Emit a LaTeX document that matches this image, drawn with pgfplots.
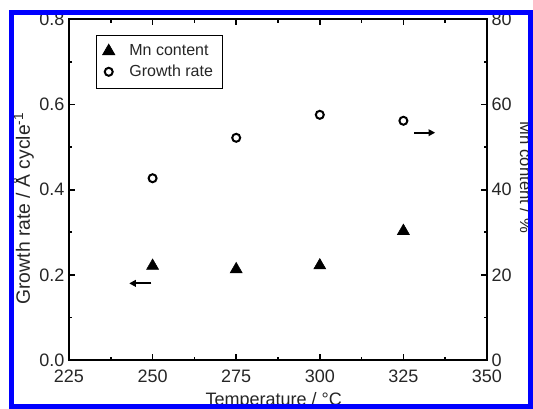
\documentclass[border=0pt]{standalone}
\usepackage{pgfplots}
\pgfplotsset{compat=1.18}
\usepackage{fontspec}
\setmainfont{Liberation Sans}
\usetikzlibrary{arrows.meta}

\pgfplotstableread{
x y
250 0.221
275 0.213
300 0.222
325 0.303
}\mntable
\pgfplotstableread{
x y
250 0.427
275 0.522
300 0.576
325 0.562
}\grtable

\begin{document}
\begin{tikzpicture}
\path[use as bounding box] (-51.75pt,-36.75pt) rectangle (348pt,270pt);
\clip (-51.75pt,-36.75pt) rectangle (348pt,270pt);
\begin{axis}[
  at={(0pt,0pt)}, anchor=south west,
  scale only axis, width=313.5pt, height=255.4pt,
  xmin=225, xmax=350, ymin=0, ymax=0.8,
  xtick={225,250,275,300,325,350}, minor x tick num=1,
  ytick={0,0.2,0.4,0.6,0.8}, minor y tick num=1,
  ytick pos=left, xtick pos=both,
  tick align=inside,
  major tick length=4.5pt, minor tick length=2.6pt,
  axis line style={line width=1.5pt},
  every tick/.style={line width=1.2pt, black},
  /pgf/number format/assume math mode=true,
  yticklabel style={/pgf/number format/.cd, fixed, fixed zerofill, precision=1},
  xticklabel style={yshift=-4pt},
  tick label style={font=\fontsize{13.5}{15}\selectfont, text=black!85},
  xlabel={Temperature / °C},
  xlabel style={at={(axis description cs:0.49,0)}, anchor=base, yshift=-34.5pt, font=\fontsize{13.5}{15}\selectfont, text=black!85},
  ylabel={Growth rate / Å cycle\textsuperscript{-1}},
  ylabel style={at={(axis description cs:-0.0933,0.445)}, anchor=base, font=\fontsize{14.5}{16}\selectfont, text=black!85},
  legend style={at={(axis description cs:0,1)}, anchor=north west, xshift=20pt, yshift=-11.6pt,
    draw=black, line width=0.6pt, font=\fontsize{12}{14}\selectfont, text=black!85,
    inner xsep=5pt, inner ysep=5pt, row sep=1.5pt},
  legend cell align=left,
]
\addplot[only marks, mark=triangle*, mark size=5.2pt, black, fill=black] table[x=x,y=y]{\mntable};
\addlegendentry{\hspace{9pt}Mn content}
\addplot[only marks, mark=o, mark size=3pt, black, line width=1.5pt] table[x=x,y=y]{\grtable};
\addlegendentry{\hspace{9pt}Growth rate}
\draw[line width=1.5pt, -{Triangle[length=5pt,width=5pt]}] (axis cs:249.6,0.18) -- (axis cs:243,0.18);
\draw[line width=1.5pt, -{Triangle[length=5pt,width=5pt]}] (axis cs:328.2,0.534) -- (axis cs:334.5,0.534);
\end{axis}
\begin{axis}[
  at={(0pt,0pt)}, anchor=south west,
  scale only axis, width=313.5pt, height=255.4pt,
  xmin=225, xmax=350, ymin=0, ymax=80,
  axis y line*=right, axis x line=none,
  ytick={0,20,40,60,80}, minor y tick num=1,
  tick align=inside,
  major tick length=4.5pt, minor tick length=2.6pt,
  axis line style={line width=1.5pt},
  every tick/.style={line width=1.2pt, black},
  /pgf/number format/assume math mode=true,
  tick label style={font=\fontsize{13.5}{15}\selectfont, text=black!85},
  ylabel={Mn content / \%},
  ylabel style={at={(axis description cs:1.079,0.536)}, anchor=base, rotate=180, font=\fontsize{12.5}{15}\selectfont, text=black!85},
]
\addplot[draw=none] coordinates {(225,0)};
\end{axis}
\draw[blue, line width=3.75pt] (-43.125pt,-34.875pt) rectangle (346.125pt,260.625pt);
\end{tikzpicture}
\end{document}
